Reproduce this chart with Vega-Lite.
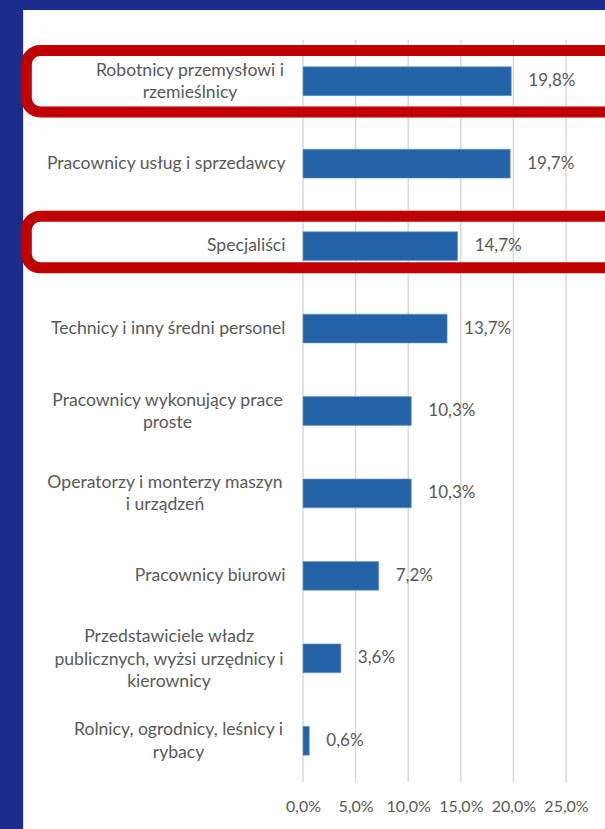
{
  "$schema": "https://vega.github.io/schema/vega-lite/v6.json",
  "autosize": {"type": "none"},
  "width": 263,
  "height": 742,
  "padding": {"left": 303, "top": 40, "right": 39, "bottom": 47},
  "background": "#1B2C8C",
  "config": {
    "view": {"stroke": null},
    "font": "Lato",
    "axis": {"labelFont": "Lato", "labelColor": "#595959", "labelFontSize": 17.6}
  },
  "datasets": {
    "bars": [
      {"k": "Robotnicy przemysłowi i|rzemieślnicy", "v": 19.8},
      {"k": "Pracownicy usług i sprzedawcy", "v": 19.7},
      {"k": "Specjaliści", "v": 14.7},
      {"k": "Technicy i inny średni personel", "v": 13.7},
      {"k": "Pracownicy wykonujący prace|proste", "v": 10.3},
      {"k": "Operatorzy i monterzy maszyn|i urządzeń", "v": 10.3},
      {"k": "Pracownicy biurowi", "v": 7.2},
      {"k": "Przedstawiciele władz|publicznych, wyżsi urzędnicy i|kierownicy", "v": 3.6},
      {"k": "Rolnicy, ogrodnicy, leśnicy i|rybacy", "v": 0.6}
    ],
    "panel": [{"x0": -26.6, "x1": 40, "y0": -0.1, "y1": 1.0404}],
    "grid": [{"t": 0}, {"t": 5}, {"t": 10}, {"t": 15}, {"t": 20}, {"t": 25}]
  },
  "layer": [
    {
      "data": {"name": "panel"},
      "mark": {"type": "rect", "fill": "#FFFFFF"},
      "encoding": {
        "x": {"field": "x0", "type": "quantitative", "scale": {"domain": [0, 25], "nice": false, "zero": false}},
        "x2": {"field": "x1"},
        "y": {"field": "y0", "type": "quantitative", "scale": {"domain": [0, 1], "nice": false, "zero": false}, "axis": null},
        "y2": {"field": "y1"}
      }
    },
    {
      "data": {"name": "grid"},
      "mark": {"type": "rule", "color": "#D9D9D9", "strokeWidth": 1.5},
      "encoding": {
        "x": {"field": "t", "type": "quantitative", "scale": {"domain": [0, 25], "nice": false}}
      }
    },
    {
      "data": {"name": "bars"},
      "layer": [
        {
          "mark": {"type": "bar", "color": "#2563A9", "stroke": "#6F9AD0", "strokeWidth": 0.6},
          "encoding": {
            "x": {
              "field": "v", "type": "quantitative",
              "scale": {"domain": [0, 25], "nice": false},
              "axis": {
                "values": [0, 5, 10, 15, 20, 25],
                "orient": "bottom",
                "title": null,
                "domain": false,
                "ticks": false,
                "grid": false,
                "zindex": 2,
                "labelOverlap": false,
                "labelFlush": false,
                "labelFontSize": 16,
                "labelPadding": 16,
                "labelExpr": "replace(format(datum.value, '.1f'), '.', ',') + '%'"
              }
            },
            "y": {
              "field": "k", "type": "nominal", "sort": null,
              "scale": {"paddingInner": 0.65, "paddingOuter": 0.325},
              "axis": {
                "title": null,
                "domain": false,
                "ticks": false,
                "zindex": 2,
                "labelLimit": 400,
                "labelLineHeight": 22.5,
                "labelExpr": "split(datum.label, '|')",
                "labelAlign": {"condition": {"test": "indexof(datum.value, '|') >= 0", "value": "center"}, "value": "right"},
                "labelOffset": {
                  "condition": [
                    {"test": "indexof(datum.value, 'Przedstawiciele') >= 0", "value": -21},
                    {"test": "indexof(datum.value, '|') >= 0", "value": -10.5}
                  ],
                  "value": 0
                },
                "labelPadding": {
                  "condition": [
                    {"test": "datum.value == 'Robotnicy przemysłowi i|rzemieślnicy'", "value": 113.5},
                    {"test": "datum.value == 'Pracownicy wykonujący prace|proste'", "value": 136},
                    {"test": "datum.value == 'Operatorzy i monterzy maszyn|i urządzeń'", "value": 138.5},
                    {"test": "indexof(datum.value, 'Przedstawiciele') >= 0", "value": 134.5},
                    {"test": "indexof(datum.value, 'Rolnicy') >= 0", "value": 125}
                  ],
                  "value": 18
                }
              }
            }
          }
        },
        {
          "transform": [{"calculate": "replace(format(datum.v, '.1f'), '.', ',') + '%'", "as": "lbl"}],
          "mark": {"type": "text", "align": "left", "baseline": "middle", "dx": 17, "font": "Lato", "fontSize": 17, "color": "#595959"},
          "encoding": {
            "x": {"field": "v", "type": "quantitative", "scale": {"domain": [0, 25], "nice": false}},
            "y": {"field": "k", "type": "nominal", "sort": null},
            "text": {"field": "lbl"}
          }
        },
        {
          "transform": [{"filter": "datum.k == 'Robotnicy przemysłowi i|rzemieślnicy'"}],
          "mark": {"type": "bar", "fill": null, "stroke": "#C00000", "strokeWidth": 11, "cornerRadius": 14, "height": {"band": 2.13}},
          "encoding": {
            "x": {"datum": -26.3, "type": "quantitative", "scale": {"domain": [0, 25], "nice": false}},
            "x2": {"datum": 40},
            "y": {"field": "k", "type": "nominal", "sort": null}
          }
        },
        {
          "transform": [{"filter": "datum.k == 'Specjaliści'"}],
          "mark": {"type": "bar", "fill": null, "stroke": "#C00000", "strokeWidth": 11, "cornerRadius": 14, "height": {"band": 1.785}, "yOffset": -4},
          "encoding": {
            "x": {"datum": -26.3, "type": "quantitative", "scale": {"domain": [0, 25], "nice": false}},
            "x2": {"datum": 40},
            "y": {"field": "k", "type": "nominal", "sort": null}
          }
        }
      ]
    }
  ],
  "resolve": {"scale": {"y": "independent"}, "axis": {"y": "independent"}}
}
